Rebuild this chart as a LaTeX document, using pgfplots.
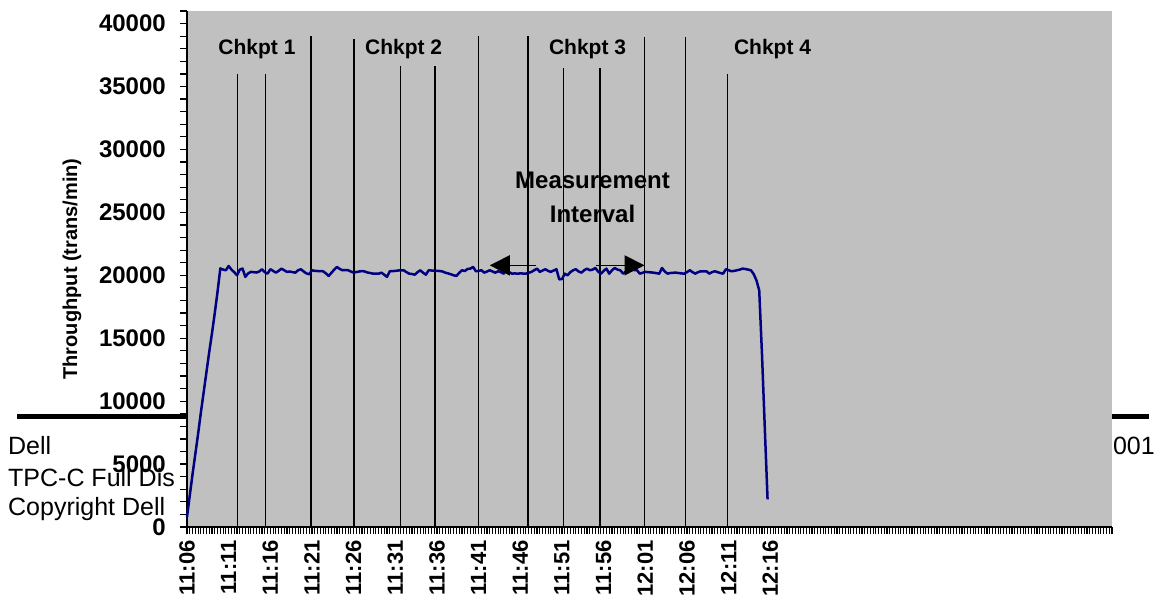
\documentclass[border=0pt]{standalone}
\usepackage{fontspec}
\setmainfont{Liberation Sans}
\usepackage{pgfplots}
\pgfplotsset{compat=1.18}
\usetikzlibrary{arrows.meta}
\definecolor{plotgray}{RGB}{192,192,192}
\definecolor{tpnavy}{RGB}{0,0,128}
\newcommand{\fs}[1]{\fontsize{#1}{#1}\selectfont}
% throughput, one sample every 20 s from 11:06
\pgfplotstableread{
t v
0 800
1 2500
2 4200
3 5800
4 7400
5 9100
6 10700
7 12300
8 13900
9 15400
10 17000
11 18700
12 20550
13 20450
14 20400
15 20740
16 20450
17 20250
18 20000
19 20450
20 20530
21 19870
22 20150
23 20270
24 20250
25 20220
26 20300
27 20480
28 20250
29 20130
30 20480
31 20350
32 20210
33 20350
34 20530
35 20400
36 20270
37 20300
38 20250
39 20210
40 20400
41 20480
42 20300
43 20150
44 20080
45 20400
46 20350
47 20340
48 20330
49 20320
50 20150
51 19950
52 20200
53 20450
54 20660
55 20500
56 20400
57 20420
58 20400
59 20300
60 20210
61 20260
62 20300
63 20340
64 20300
65 20220
66 20180
67 20130
68 20140
69 20130
70 20210
71 20050
72 19870
73 20320
74 20330
75 20350
76 20380
77 20400
78 20400
79 20250
80 20130
81 20100
82 20050
83 20250
84 20400
85 20200
86 20050
87 20400
88 20380
89 20360
90 20350
91 20340
92 20300
93 20210
94 20150
95 20080
96 20000
97 19950
98 20200
99 20400
100 20340
101 20500
102 20530
103 20660
104 20320
105 20350
106 20400
107 20210
108 20300
109 20400
110 20300
111 20210
112 20320
113 20250
114 20130
115 20400
116 20250
117 20130
118 20150
119 20130
120 20150
121 20140
122 20130
123 20200
124 20270
125 20400
126 20530
127 20270
128 20380
129 20480
130 20350
131 20270
132 20380
133 20480
134 19680
135 19700
136 20130
137 20000
138 20250
139 20400
140 20480
141 20300
142 20210
143 20400
144 20530
145 20400
146 20450
147 20580
148 20300
149 20130
150 20350
151 20530
152 20130
153 20400
154 20580
155 20450
156 20400
157 20130
158 20300
159 20530
160 20450
161 20420
162 20400
163 20130
164 20200
165 20270
166 20250
167 20230
168 20210
169 20170
170 20130
171 20580
172 20300
173 20130
174 20180
175 20200
176 20210
177 20180
178 20150
179 20130
180 20250
181 20400
182 20250
183 20130
184 20250
185 20320
186 20320
187 20320
188 20130
189 20250
190 20320
191 20250
192 20180
193 20130
194 20480
195 20400
196 20320
197 20350
198 20400
199 20450
200 20530
201 20500
202 20450
203 20400
204 20100
205 19600
206 18800
207 13700
208 7900
209 2200
}\tput

\begin{document}
\begin{tikzpicture}
% page footer behind the chart
\draw[line width=5pt] (-170pt,110.5pt) -- (962pt,110.5pt);
\node[anchor=base west, inner sep=0pt, font=\fs{25}] at (-179pt,72pt) {Dell};
\node[anchor=base west, inner sep=0pt, font=\fs{25}] at (-179pt,41pt) {TPC-C Full Dis};
\node[anchor=base west, inner sep=0pt, font=\fs{25}] at (-179pt,12pt) {Copyright Dell};
\node[anchor=base east, inner sep=0pt, font=\fs{25}] at (968pt,72pt) {2001};

\begin{axis}[
  at={(0,0)}, anchor=south west,
  scale only axis,
  width=925pt, height=516pt,
  xmin=0, xmax=333,
  ymin=0, ymax=41000,
  axis x line*=bottom, axis y line*=left,
  axis line style={-, black, line width=1.5pt},
  axis background/.style={fill=plotgray},
  xtick={0,15,...,210},
  xticklabels={11:06,11:11,11:16,11:21,11:26,11:31,11:36,11:41,11:46,11:51,11:56,12:01,12:06,12:11,12:16},
  minor xtick={0,1,...,333},
  ytick={0,5000,...,40000},
  minor ytick={0,1000,...,41000},
  tick align=outside,
  major tick length=7pt, minor tick length=7pt,
  tick style={black, line width=1.2pt},
  scaled y ticks=false,
  /pgf/number format/1000 sep={},
  /pgf/number format/assume math mode=true,
  yticklabel style={font=\fs{24}\bfseries, inner sep=0pt, xshift=-14pt},
  xticklabel style={font=\fs{22}\bfseries, rotate=90, anchor=east, inner sep=0pt, xshift=-6pt},
  ylabel={Throughput (trans/min)},
  ylabel style={font=\fs{20}\bfseries, at={(axis description cs:-0.1243,0.5)}, anchor=center},
  clip=false,
]
% checkpoint and interval markers
\addplot[black, line width=1.5pt] coordinates {(18.2,0) (18.2,36000)};
\addplot[black, line width=1.5pt] coordinates {(28.3,0) (28.3,36000)};
\addplot[black, line width=1.5pt] coordinates {(44.6,0) (44.6,39000)};
\addplot[black, line width=1.5pt] coordinates {(60.1,0) (60.1,38800)};
\addplot[black, line width=1.5pt] coordinates {(76.9,0) (76.9,36600)};
\addplot[black, line width=1.5pt] coordinates {(89.2,0) (89.2,36600)};
\addplot[black, line width=1.5pt] coordinates {(105.0,0) (105.0,39000)};
\addplot[black, line width=1.5pt] coordinates {(122.7,0) (122.7,39000)};
\addplot[black, line width=1.5pt] coordinates {(135.6,0) (135.6,36500)};
\addplot[black, line width=1.5pt] coordinates {(148.6,0) (148.6,36500)};
\addplot[black, line width=1.5pt] coordinates {(164.7,0) (164.7,38900)};
\addplot[black, line width=1.5pt] coordinates {(179.5,0) (179.5,38900)};
\addplot[black, line width=1.5pt] coordinates {(194.6,0) (194.6,36000)};

\addplot[tpnavy, line width=2.5pt, line join=round] table[x=t, y=v] {\tput};

\node[anchor=base, font=\fs{21}\bfseries] at (axis cs:25.2,37540) {Chkpt 1};
\node[anchor=base, font=\fs{21}\bfseries] at (axis cs:78,37540) {Chkpt 2};
\node[anchor=base, font=\fs{21}\bfseries] at (axis cs:144.2,37540) {Chkpt 3};
\node[anchor=base, font=\fs{21}\bfseries] at (axis cs:210.8,37540) {Chkpt 4};
\node[anchor=base, font=\fs{24}\bfseries] at (axis cs:146,26900) {Measurement};
\node[anchor=base, font=\fs{24}\bfseries] at (axis cs:146,24200) {Interval};
\draw[line width=1.5pt, -{Triangle[length=20pt,width=20pt]}] (axis cs:125.8,20790) -- (axis cs:109,20790);
\draw[line width=1.5pt, -{Triangle[length=20pt,width=20pt]}] (axis cs:147.4,20790) -- (axis cs:164.7,20790);
\end{axis}
\pgfresetboundingbox
\path (-187pt,-73pt) rectangle (978pt,527pt);
\end{tikzpicture}
\end{document}
